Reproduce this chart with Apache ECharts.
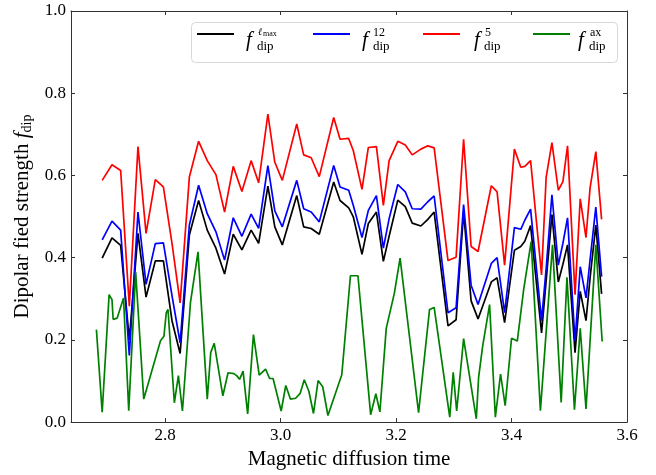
<!DOCTYPE html>
<html>
<head>
<meta charset="utf-8">
<script src="https://cdn.jsdelivr.net/npm/echarts@6/dist/echarts.min.js"></script>
<style>
html,body{margin:0;padding:0;background:#fff;}
#chart{width:656px;height:475px;}
</style>
</head>
<body>
<div id="chart"></div>
<script>
// ---- data ----
const timeMain = [2.691,2.708,2.723,2.738,2.753,2.767,2.783,2.797,2.812,2.826,2.842,2.858,2.873,2.888,2.903,2.918,2.933,2.949,2.962,2.978,2.990,3.003,3.028,3.040,3.053,3.067,3.092,3.103,3.118,3.126,3.141,3.152,3.166,3.178,3.188,3.203,3.216,3.228,3.243,3.255,3.266,3.290,3.304,3.317,3.330,3.342,3.365,3.375,3.388,3.405,3.416,3.423,3.433,3.452,3.460,3.470,3.481,3.489,3.497,3.510,3.519,3.529,3.536,3.546,3.556];
const fLmax = [0.399,0.448,0.430,0.200,0.459,0.304,0.392,0.392,0.246,0.167,0.455,0.539,0.467,0.423,0.360,0.457,0.419,0.467,0.435,0.574,0.475,0.431,0.551,0.475,0.471,0.457,0.584,0.539,0.521,0.499,0.408,0.483,0.511,0.391,0.452,0.540,0.524,0.484,0.477,0.493,0.511,0.234,0.249,0.511,0.295,0.251,0.341,0.351,0.242,0.418,0.427,0.440,0.478,0.217,0.344,0.505,0.341,0.384,0.431,0.169,0.318,0.247,0.350,0.479,0.312];
const f12 = [0.443,0.489,0.467,0.162,0.511,0.335,0.434,0.436,0.307,0.193,0.479,0.576,0.507,0.463,0.394,0.497,0.452,0.506,0.471,0.624,0.514,0.475,0.588,0.519,0.511,0.487,0.624,0.572,0.564,0.527,0.449,0.515,0.551,0.423,0.495,0.578,0.560,0.519,0.518,0.536,0.550,0.266,0.278,0.529,0.333,0.286,0.386,0.400,0.266,0.473,0.469,0.491,0.518,0.247,0.374,0.553,0.382,0.435,0.497,0.197,0.378,0.302,0.394,0.523,0.354];
const f5 = [0.588,0.626,0.612,0.282,0.670,0.459,0.590,0.572,0.434,0.290,0.596,0.683,0.636,0.602,0.511,0.622,0.561,0.636,0.582,0.749,0.632,0.588,0.725,0.650,0.643,0.597,0.741,0.688,0.690,0.660,0.566,0.668,0.670,0.527,0.636,0.683,0.674,0.650,0.664,0.672,0.667,0.393,0.401,0.688,0.427,0.415,0.575,0.560,0.382,0.664,0.620,0.622,0.636,0.358,0.596,0.680,0.564,0.585,0.672,0.310,0.543,0.449,0.569,0.658,0.493];
const timeAx = [2.681,2.691,2.703,2.708,2.710,2.717,2.728,2.737,2.749,2.763,2.792,2.798,2.802,2.805,2.816,2.823,2.830,2.844,2.857,2.873,2.879,2.885,2.900,2.909,2.919,2.924,2.929,2.935,2.943,2.953,2.963,2.974,2.981,2.987,3.001,3.009,3.017,3.026,3.034,3.041,3.049,3.057,3.065,3.073,3.082,3.106,3.121,3.134,3.156,3.165,3.172,3.183,3.197,3.207,3.239,3.258,3.266,3.293,3.299,3.305,3.317,3.339,3.343,3.350,3.362,3.372,3.381,3.389,3.400,3.410,3.421,3.434,3.450,3.471,3.486,3.496,3.509,3.519,3.529,3.546,3.557];
const fAx = [0.225,0.024,0.310,0.298,0.250,0.253,0.302,0.028,0.365,0.056,0.198,0.209,0.266,0.274,0.047,0.113,0.027,0.292,0.414,0.056,0.169,0.192,0.064,0.120,0.118,0.113,0.104,0.124,0.020,0.213,0.114,0.129,0.106,0.106,0.027,0.089,0.056,0.058,0.070,0.103,0.075,0.021,0.101,0.086,0.016,0.115,0.356,0.356,0.018,0.069,0.025,0.228,0.313,0.399,0.023,0.274,0.279,0.012,0.121,0.027,0.203,0.008,0.109,0.185,0.286,0.012,0.117,0.040,0.204,0.197,0.322,0.439,0.028,0.431,0.048,0.352,0.030,0.228,0.032,0.431,0.196];
const xTicks = [2.8, 3.0, 3.2, 3.4, 3.6];
const yTicks = [0.0, 0.2, 0.4, 0.6, 0.8, 1.0];
const seriesNames = ['fLmax', 'f12', 'f5', 'fax'];
const seriesColors = ['#000000', '#0000ff', '#ff0000', '#008000'];

const zip = (xs, ys) => xs.map((x, i) => [x, ys[i]]);
const serif = "'Liberation Serif', 'DejaVu Serif', serif";
const axisColor = '#333';

function mkSeries(name, xs, ys, color) {
  return {
    name, type: 'line', data: zip(xs, ys), symbol: 'none', showSymbol: false,
    lineStyle: {color, width: 1.7}, itemStyle: {color}, animation: false
  };
}

// legend entries: one legend per item (line sample), box drawn as graphic
const legendLeft = [197, 313, 423, 533];
const legends = seriesNames.map((n, i) => ({
  left: legendLeft[i], top: 33, padding: 0, itemGap: 0,
  itemWidth: 37, itemHeight: 2, icon: 'rect',
  data: [n], formatter: () => '', selectedMode: false,
  textStyle: {fontSize: 12, lineHeight: 14},
  z: 20
}));

function mathLabel(fx, supText, supX, subX, supSize) {
  return [
    {type: 'text', x: fx, y: 40, z: 100, style: {text: 'f', font: 'italic 21px ' + serif, fill: '#000', textVerticalAlign: 'middle'}},
    {type: 'text', x: subX, y: 47, z: 100, style: {text: 'dip', font: '13px ' + serif, fill: '#000', textVerticalAlign: 'middle'}},
    {type: 'text', x: supX, y: 33, z: 100, style: {text: supText, font: supSize + 'px ' + serif, fill: '#000', textVerticalAlign: 'middle'}}
  ];
}
let graphics = [
  {type: 'rect', z: 10, shape: {x: 191.5, y: 22.5, width: 426, height: 40, r: 4},
   style: {fill: 'rgba(255,255,255,0.85)', stroke: '#d8d8d8', lineWidth: 1}}
];
graphics = graphics.concat([
  {type: 'text', x: 246, y: 40, z: 100, style: {text: 'f', font: 'italic 21px ' + serif, fill: '#000', textVerticalAlign: 'middle'}},
  {type: 'text', x: 257, y: 47, z: 100, style: {text: 'dip', font: '13px ' + serif, fill: '#000', textVerticalAlign: 'middle'}},
  {type: 'text', x: 258, y: 32, z: 100, style: {text: 'ℓ', font: 'italic 10px ' + serif, fill: '#000', textVerticalAlign: 'middle'}},
  {type: 'text', x: 263, y: 34, z: 100, style: {text: 'max', font: '8px ' + serif, fill: '#000', textVerticalAlign: 'middle'}}
]);
graphics = graphics.concat(mathLabel(362, '12', 373, 373, 12));
graphics = graphics.concat(mathLabel(474, '5', 485, 484, 12));
graphics = graphics.concat(mathLabel(578, 'ax', 590, 589, 12));

const chart = echarts.init(document.getElementById('chart'), null, {renderer: 'canvas'});
chart.setOption({
  animation: false,
  backgroundColor: '#fff',
  grid: {left: 71, right: 29, top: 11, bottom: 50, containLabel: false},
  legend: legends,
  xAxis: [{
    type: 'value', min: 2.637, max: 3.6, position: 'bottom',
    name: 'Magnetic diffusion time', nameLocation: 'middle', nameGap: 22,
    nameTextStyle: {fontFamily: serif, fontSize: 21, color: '#000'},
    axisLine: {show: true, onZero: false, lineStyle: {color: axisColor, width: 1}},
    axisTick: {show: true, inside: true, length: 4, customValues: xTicks, lineStyle: {color: axisColor}},
    axisLabel: {customValues: xTicks, formatter: v => v.toFixed(1), fontFamily: serif, fontSize: 17, color: '#000', margin: 5},
    splitLine: {show: false}
  }, {
    type: 'value', min: 2.637, max: 3.6, position: 'top',
    axisLine: {show: true, onZero: false, lineStyle: {color: axisColor, width: 1}},
    axisTick: {show: true, inside: true, length: 4, customValues: xTicks, lineStyle: {color: axisColor}},
    axisLabel: {show: false},
    splitLine: {show: false}
  }],
  yAxis: [{
    type: 'value', min: 0, max: 1, interval: 0.2, position: 'left',
    name: 'Dipolar fied strength {i|f}{s|dip}', nameLocation: 'middle', nameGap: 32, nameRotate: 90,
    nameTextStyle: {
      fontFamily: serif, fontSize: 21, color: '#000',
      rich: {
        i: {fontFamily: serif, fontStyle: 'italic', fontSize: 21, color: '#000'},
        s: {fontFamily: serif, fontSize: 14, color: '#000', verticalAlign: 'bottom', padding: [8, 0, 0, 0]}
      }
    },
    axisLine: {show: true, onZero: false, lineStyle: {color: axisColor, width: 1}},
    axisTick: {show: true, inside: true, length: 4, lineStyle: {color: axisColor}},
    axisLabel: {formatter: v => v.toFixed(1), fontFamily: serif, fontSize: 17, color: '#000', margin: 5},
    splitLine: {show: false}
  }, {
    type: 'value', min: 0, max: 1, interval: 0.2, position: 'right',
    axisLine: {show: true, onZero: false, lineStyle: {color: axisColor, width: 1}},
    axisTick: {show: true, inside: true, length: 4, lineStyle: {color: axisColor}},
    axisLabel: {show: false},
    splitLine: {show: false}
  }],
  series: [
    mkSeries(seriesNames[0], timeMain, fLmax, seriesColors[0]),
    mkSeries(seriesNames[1], timeMain, f12, seriesColors[1]),
    mkSeries(seriesNames[2], timeMain, f5, seriesColors[2]),
    mkSeries(seriesNames[3], timeAx, fAx, seriesColors[3])
  ],
  graphic: graphics
});
</script>
</body>
</html>
